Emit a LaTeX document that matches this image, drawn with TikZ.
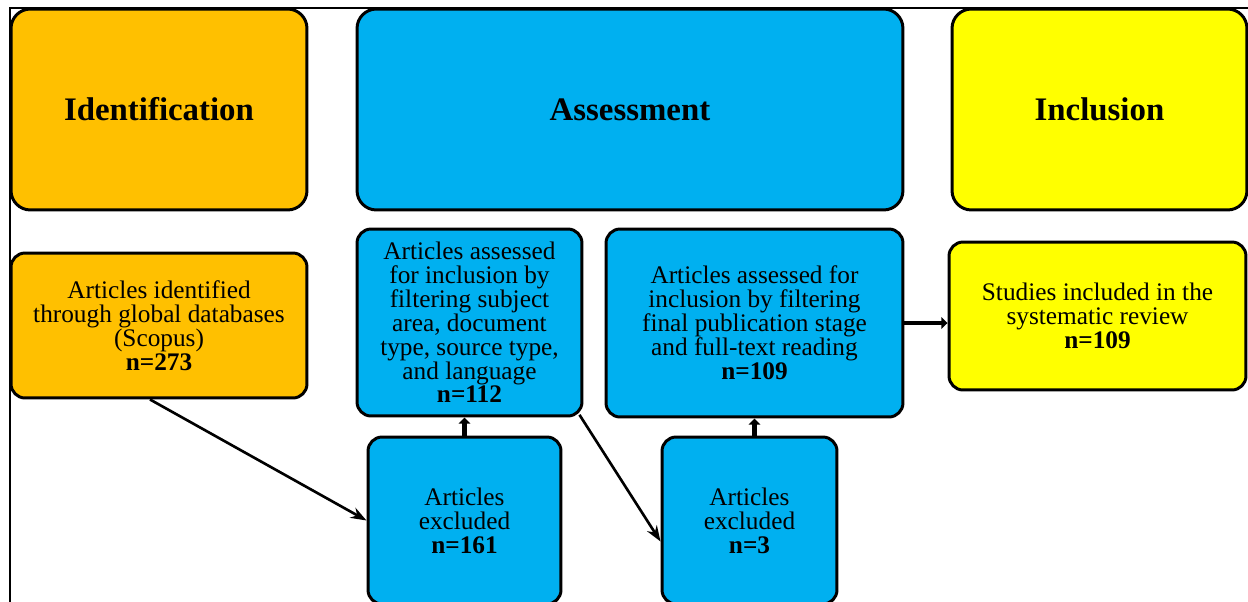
\documentclass[tikz,border=0pt]{standalone}
\usepackage{fontspec}
\setmainfont{Liberation Serif}
\usepackage{tikz}
\usetikzlibrary{arrows.meta}

\definecolor{idorange}{HTML}{FFC000}
\definecolor{asblue}{HTML}{00B0F0}
\definecolor{inyellow}{HTML}{FFFF00}

\tikzset{
  stagebox/.style={draw=black, line width=1.7pt, rounded corners=11pt,
    align=center, inner sep=2pt, font=\fontsize{18.7}{22}\selectfont\bfseries},
  itembox/.style={draw=black, line width=1.7pt, rounded corners=8pt,
    align=center, inner sep=2pt, font=\fontsize{14.4}{13.6}\selectfont},
  thinarrow/.style={line width=1.5pt, -{Stealth[length=9pt,width=6.5pt]}},
  thickarrow/.style={line width=2.6pt, -{Triangle[length=3.5pt,width=6.5pt]}}
}

\begin{document}
\begin{tikzpicture}[x=0.02cm, y=-0.02cm]

    \useasboundingbox (0,0) rectangle (1248,602);
    \clip (0,0) rectangle (1248,602);

    % frame
    \draw[line width=1.1pt] (10,8) rectangle (1280,650);

    % stage headers
    \node[stagebox, fill=idorange, minimum width=5.92cm, minimum height=4.02cm] (ident) at (159,109.5) {Identification};
    \node[stagebox, fill=asblue, minimum width=10.92cm, minimum height=4.02cm] (assess) at (630,109.5) {Assessment};
    \node[stagebox, fill=inyellow, minimum width=5.9cm, minimum height=4.02cm] (incl) at (1099.5,109.5) {Inclusion};

    % records
    \node[itembox, fill=idorange, minimum width=5.92cm, minimum height=2.9cm] (idbox) at (159,325.5)
        {Articles identified\\through global databases\\(Scopus)\\\textbf{n=273}};
    \node[itembox, fill=asblue, minimum width=4.5cm, minimum height=3.74cm] (asA) at (469.5,322.5)
        {Articles assessed\\for inclusion by\\filtering subject\\area, document\\type, source type,\\and language\\\textbf{n=112}};
    \node[itembox, fill=asblue, minimum width=5.94cm, minimum height=3.76cm] (asB) at (754.5,323)
        {Articles assessed for\\inclusion by filtering\\final publication stage\\and full-text reading\\\textbf{n=109}};
    \node[itembox, fill=inyellow, minimum width=5.94cm, minimum height=2.96cm] (inbox) at (1097.5,316)
        {Studies included in the\\systematic review\\\textbf{n=109}};

    % exclusions
    \node[itembox, fill=asblue, minimum width=3.86cm, minimum height=3.34cm] (excA) at (464.5,520.5)
        {Articles\\excluded\\\textbf{n=161}};
    \node[itembox, fill=asblue, minimum width=3.5cm, minimum height=3.34cm] (excB) at (749.5,520.5)
        {Articles\\excluded\\\textbf{n=3}};

    % connectors
    \draw[thinarrow] ([xshift=-0.18cm]idbox.south) -- (excA.west);
    \draw[thinarrow] ([xshift=-0.08cm]asA.-39) -- ([yshift=-0.42cm]excB.west);
    \draw[thickarrow] (excA.north) -- (excA.north |- asA.south);
    \draw[thickarrow] (asB.south |- excB.north) -- (asB.south);
    \draw[thickarrow] (asB.east) -- (asB.east -| inbox.west);

\end{tikzpicture}
\end{document}
